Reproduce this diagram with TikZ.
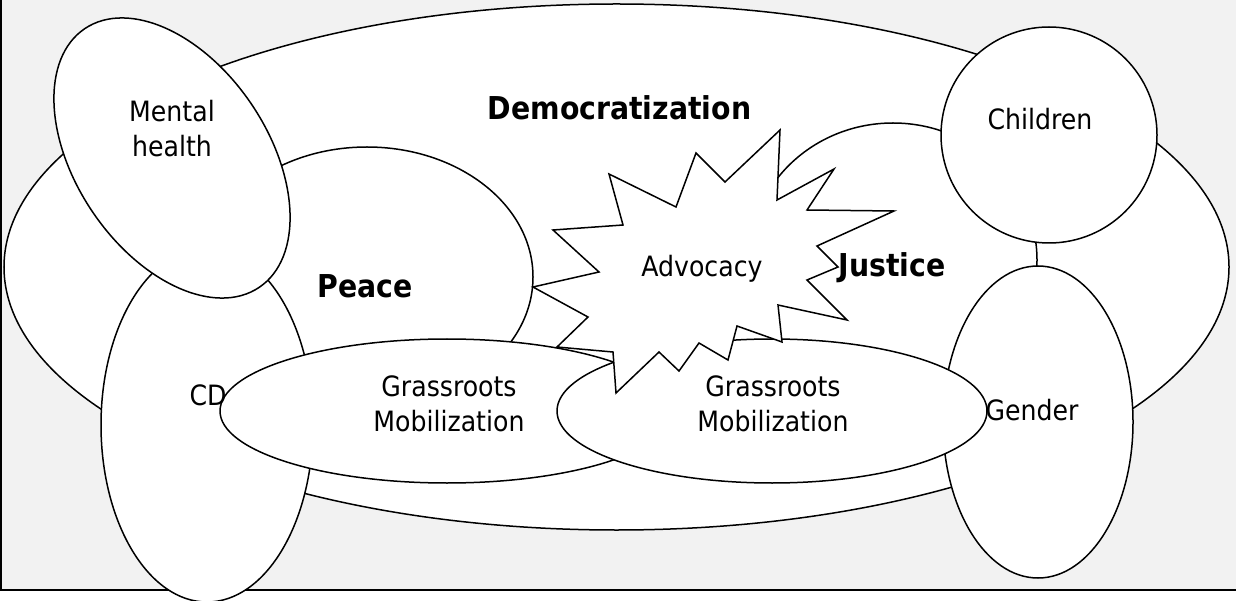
\documentclass[tikz,border=0pt]{standalone}
\usepackage{fontspec}
\setmainfont{DejaVu Sans Condensed}
\usetikzlibrary{shapes.geometric}
\definecolor{canvas}{HTML}{F2F2F2}

\begin{document}
\begin{tikzpicture}[x=1pt,y=-1pt]
    \tikzstyle{blob} = [shape=ellipse, draw=black, fill=white, line width=1.5pt, inner sep=0pt]
    \tikzstyle{ring} = [shape=circle, draw=black, fill=white, line width=1.5pt, inner sep=0pt]
    \tikzstyle{theme} = [font=\bfseries\fontsize{31.5}{35}\selectfont, inner sep=0pt]
    \tikzstyle{txt} = [font=\fontsize{28}{35}\selectfont, align=center, inner sep=0pt]

    \useasboundingbox (0,0) rectangle (1236,601);
    \fill[canvas] (0,0) rectangle (1236,590);
    \draw[line width=2pt] (1,0) -- (1,590) -- (1236,590);

    % the big areas, back to front
    \node (demo)     [blob, minimum width=1225pt, minimum height=526pt] at (616.5,267) {};
    \node (peace)    [blob, minimum width=332pt, minimum height=260pt]  at (367,277) {};
    \node (justice)  [blob, minimum width=288pt, minimum height=274pt]  at (893,260) {};
    \node (cd)       [blob, minimum width=212pt, minimum height=354pt]  at (207,425) {};
    \node (mental)   [blob, minimum width=312pt, minimum height=192pt, rotate=-56] at (172,158) {};
    \node (children) [ring, minimum size=216pt]                         at (1049,135) {};
    \node (gender)   [blob, minimum width=190pt, minimum height=312pt]  at (1038,422) {};
    \node (grassl)   [blob, minimum width=454pt, minimum height=144pt]  at (447,411) {};
    \node (grassr)   [blob, minimum width=430pt, minimum height=144pt]  at (772,411) {};

    % advocacy burst
    \draw[fill=white, line width=1.5pt]
        (553,230) -- (623,225) -- (609,174) -- (676,207) -- (696,153) -- (725,182)
        -- (780,130) -- (777,200) -- (834,169) -- (807,210) -- (894,211) -- (817,246)
        -- (838,267) -- (807,280) -- (847,320) -- (778,305) -- (782,342) -- (737,326)
        -- (728,360) -- (699,343) -- (679,371) -- (659,352) -- (616,393) -- (613,352)
        -- (557,347) -- (588,317) -- (533,287) -- (599,272) -- cycle;

    % labels
    \node (tdemo)     [theme, anchor=base] at (619.5,120) {Democratization};
    \node (tpeace)    [theme, anchor=base] at (365,298)   {Peace};
    \node (tjustice)  [theme, anchor=base] at (892,277)   {Justice};
    \node (tadvocacy) [txt, anchor=base]   at (702,277)   {Advocacy};
    \node (tmental)   [txt]                at (172,129)   {Mental\\health};
    \node (tchildren) [txt, anchor=base]   at (1040,130)  {Children};
    \node (tgender)   [txt, anchor=base]   at (1032,420)  {Gender};
    \node (tcd)       [txt, anchor=base]   at (208,405)   {CD};
    \node (tgrassl)   [txt]                at (449,404)   {Grassroots\\Mobilization};
    \node (tgrassr)   [txt]                at (773,404)   {Grassroots\\Mobilization};
\end{tikzpicture}
\end{document}
